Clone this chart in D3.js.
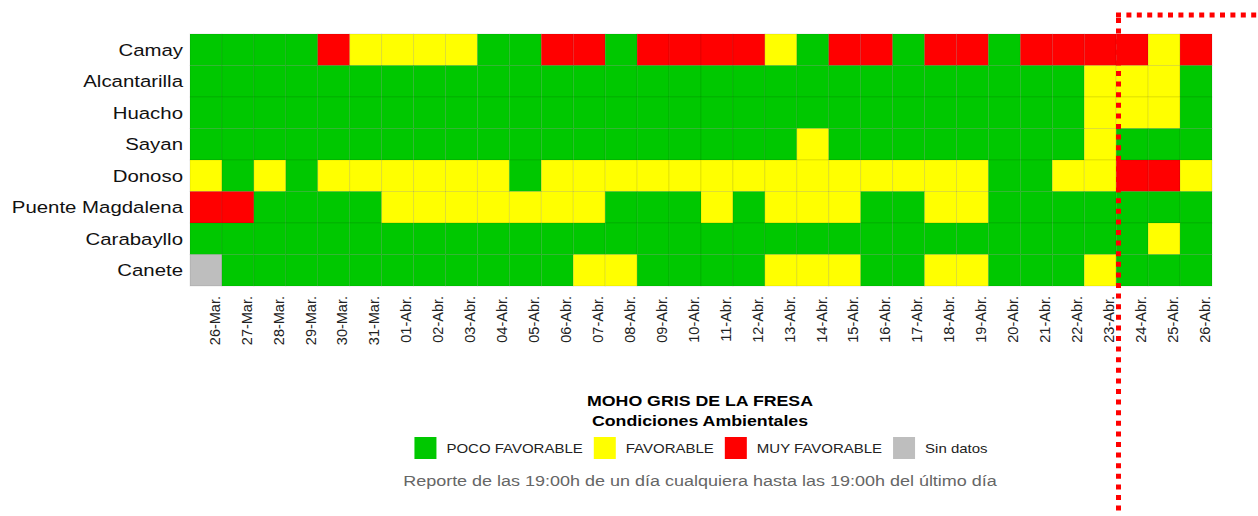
<!DOCTYPE html>
<html>
<head>
<meta charset="utf-8">
<script src="https://cdn.jsdelivr.net/npm/d3@7"></script>
<style>
  html, body { margin: 0; padding: 0; background: #fff; }
  svg { display: block; font-family: "Liberation Sans", Arial, sans-serif; }
</style>
</head>
<body>
<svg id="chart" width="1258" height="516"></svg>
<script>
// ---------------- DATA ----------------
const dates = ["26-Mar.","27-Mar.","28-Mar.","29-Mar.","30-Mar.","31-Mar.",
  "01-Abr.","02-Abr.","03-Abr.","04-Abr.","05-Abr.","06-Abr.","07-Abr.","08-Abr.",
  "09-Abr.","10-Abr.","11-Abr.","12-Abr.","13-Abr.","14-Abr.","15-Abr.","16-Abr.",
  "17-Abr.","18-Abr.","19-Abr.","20-Abr.","21-Abr.","22-Abr.","23-Abr.","24-Abr.",
  "25-Abr.","26-Abr."];

const stations = ["Camay","Alcantarilla","Huacho","Sayan","Donoso","Puente Magdalena","Carabayllo","Canete"];

// level codes: 0 = POCO FAVORABLE, 1 = FAVORABLE, 2 = MUY FAVORABLE, -1 = Sin datos
const camay          = [0,0,0,0,2,1,1,1,1,0,0,2,2,0,2,2,2,2,1,0,2,2,0,2,2,0,2,2,2,2,1,2];
const alcantarilla   = [0,0,0,0,0,0,0,0,0,0,0,0,0,0,0,0,0,0,0,0,0,0,0,0,0,0,0,0,1,1,1,0];
const huacho         = [0,0,0,0,0,0,0,0,0,0,0,0,0,0,0,0,0,0,0,0,0,0,0,0,0,0,0,0,1,1,1,0];
const sayan          = [0,0,0,0,0,0,0,0,0,0,0,0,0,0,0,0,0,0,0,1,0,0,0,0,0,0,0,0,1,0,0,0];
const donoso         = [1,0,1,0,1,1,1,1,1,1,0,1,1,1,1,1,1,1,1,1,1,1,1,1,1,0,0,1,1,2,2,1];
const puenteMagdalena= [2,2,0,0,0,0,1,1,1,1,1,1,1,0,0,0,1,0,1,1,1,0,0,1,1,0,0,0,0,0,0,0];
const carabayllo     = [0,0,0,0,0,0,0,0,0,0,0,0,0,0,0,0,0,0,0,0,0,0,0,0,0,0,0,0,0,0,1,0];
const canete         = [-1,0,0,0,0,0,0,0,0,0,0,0,1,1,0,0,0,0,1,1,1,0,0,1,1,0,0,0,1,0,0,0];

const seriesByStation = [camay, alcantarilla, huacho, sayan, donoso, puenteMagdalena, carabayllo, canete];

const levelCodes  = [0, 1, 2, -1];
const levelLabels = ["POCO FAVORABLE", "FAVORABLE", "MUY FAVORABLE", "Sin datos"];
const levelColors = ["#00c800", "#ffff00", "#ff0000", "#bebebe"];

const titleLines = ["MOHO GRIS DE LA FRESA", "Condiciones Ambientales"];
const footnote = "Reporte de las 19:00h de un día cualquiera hasta las 19:00h del último día";

// ---------------- DRAW ----------------
const SX = 1.2; // horizontal stretch of the original picture's text
const svg = d3.select("#chart");

const x = d3.scaleBand().domain(dates).range([190, 1212]).padding(0);
const y = d3.scaleBand().domain(stations).range([34, 286]).padding(0);
const color = d3.scaleOrdinal().domain(levelCodes).range(levelColors);

const cells = [];
stations.forEach((s, i) => {
  seriesByStation[i].forEach((v, j) => cells.push({station: s, date: dates[j], value: v}));
});

svg.append("g").selectAll("rect").data(cells).join("rect")
  .attr("x", d => x(d.date))
  .attr("y", d => y(d.station))
  .attr("width", x.bandwidth())
  .attr("height", y.bandwidth())
  .attr("fill", d => color(d.value))
  .attr("stroke", "rgba(0,0,0,0.09)")
  .attr("stroke-width", 1);

// y labels
svg.append("g").selectAll("g").data(stations).join("g")
  .attr("transform", d => `translate(183,${y(d) + y.bandwidth() / 2}) scale(${SX},1)`)
  .append("text")
  .attr("text-anchor", "end")
  .attr("dy", "0.36em")
  .attr("font-size", 17)
  .attr("fill", "#111")
  .text(d => d);

// x labels (rotated)
svg.append("g").selectAll("g").data(dates).join("g")
  .attr("transform", d => `translate(${x(d) + x.bandwidth() / 2 + 8.5},296) rotate(-90)`)
  .append("text")
  .attr("text-anchor", "end")
  .attr("dy", "0.36em")
  .attr("font-size", 14.5)
  .attr("fill", "#222")
  .text(d => d);

// titles
const cx = 700;
function stretchedText(g, txt, tx, ty, size, weight, fill, anchor) {
  const gg = g.append("g").attr("transform", `translate(${tx},${ty}) scale(${SX},1)`);
  return gg.append("text")
    .attr("text-anchor", anchor || "middle")
    .attr("font-size", size)
    .attr("font-weight", weight || "normal")
    .attr("fill", fill)
    .text(txt);
}
stretchedText(svg, titleLines[0], cx, 406, 14.8, "bold", "#000");
stretchedText(svg, titleLines[1], cx, 426, 14.8, "bold", "#000");

// legend
const legend = svg.append("g");
const items = [];
let cursor = 0;
const sq = 22, gapIn = 10, gapOut = 11;
levelCodes.forEach((c, i) => {
  const t = stretchedText(legend, levelLabels[i], 0, 0, 12.5, "normal", "#222", "start");
  const w = t.node().getComputedTextLength() * SX;
  t.node().parentNode.remove();
  items.push({c, label: levelLabels[i], x: cursor, w});
  cursor += sq + gapIn + w + gapOut;
});
const total = cursor - gapOut;
const lx0 = cx + 1 - total / 2;
items.forEach(it => {
  legend.append("rect")
    .attr("x", lx0 + it.x).attr("y", 437)
    .attr("width", sq).attr("height", sq)
    .attr("fill", color(it.c));
  stretchedText(legend, it.label, lx0 + it.x + sq + gapIn, 452.5, 12.5, "normal", "#222", "start");
});

// footnote
stretchedText(svg, footnote, cx, 485.5, 15, "normal", "#666");

// red dotted annotation
svg.append("line")
  .attr("x1", 1118.5).attr("y1", 18).attr("x2", 1118.5).attr("y2", 516)
  .attr("stroke", "#ff0000").attr("stroke-width", 5)
  .attr("stroke-dasharray", "5,5.6");
svg.append("line")
  .attr("x1", 1116).attr("y1", 15).attr("x2", 1258).attr("y2", 15)
  .attr("stroke", "#ff0000").attr("stroke-width", 5)
  .attr("stroke-dasharray", "5,5.4");
</script>
</body>
</html>
